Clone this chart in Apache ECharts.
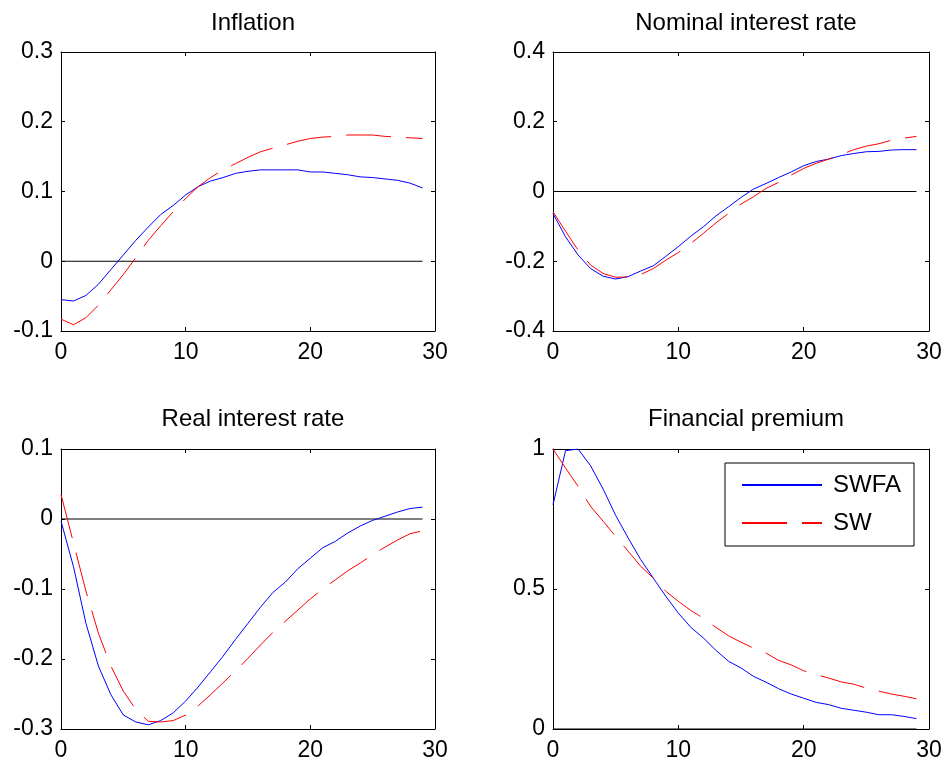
<!DOCTYPE html>
<html>
<head>
<meta charset="utf-8">
<script src="https://cdn.jsdelivr.net/npm/echarts@6/dist/echarts.min.js"></script>
<style>
html,body{margin:0;padding:0;background:#fff;}
#chart{width:948px;height:767px;}
</style>
</head>
<body>
<div id="chart"></div>
<script>
// ---- data ----
const periods = [0,1,2,3,4,5,6,7,8,9,10,11,12,13,14,15,16,17,18,19,20,21,22,23,24,25,26,27,28,29];

const titles = ['Inflation', 'Nominal interest rate', 'Real interest rate', 'Financial premium'];
const seriesNames = ['SWFA', 'SW'];

const inflationSWFA = [-0.055,-0.057,-0.049,-0.033,-0.012,0.009,0.030,0.049,0.067,0.080,0.095,0.107,0.115,0.120,0.126,0.129,0.131,0.131,0.131,0.131,0.128,0.128,0.126,0.124,0.121,0.120,0.118,0.116,0.112,0.105];
const inflationSW = [-0.083,-0.091,-0.081,-0.063,-0.041,-0.019,0.005,0.030,0.051,0.071,0.090,0.107,0.120,0.131,0.140,0.149,0.157,0.162,0.167,0.172,0.176,0.178,0.179,0.181,0.181,0.181,0.179,0.178,0.177,0.176];

const nominalSWFA = [-0.063,-0.130,-0.182,-0.221,-0.243,-0.251,-0.244,-0.228,-0.213,-0.186,-0.158,-0.128,-0.101,-0.070,-0.044,-0.017,0.007,0.023,0.040,0.056,0.074,0.086,0.093,0.103,0.109,0.114,0.115,0.119,0.120,0.120];
const nominalSW = [-0.058,-0.114,-0.168,-0.211,-0.235,-0.246,-0.245,-0.238,-0.221,-0.197,-0.175,-0.149,-0.120,-0.090,-0.063,-0.036,-0.015,0.009,0.026,0.047,0.066,0.081,0.093,0.106,0.120,0.130,0.137,0.147,0.153,0.158];

const realSWFA = [-0.003,-0.068,-0.149,-0.210,-0.251,-0.280,-0.290,-0.294,-0.288,-0.277,-0.260,-0.240,-0.218,-0.196,-0.172,-0.149,-0.126,-0.105,-0.090,-0.071,-0.056,-0.041,-0.032,-0.020,-0.010,-0.002,0.004,0.010,0.015,0.017];
const realSW = [0.035,-0.034,-0.103,-0.163,-0.210,-0.246,-0.272,-0.289,-0.290,-0.288,-0.280,-0.267,-0.251,-0.234,-0.217,-0.199,-0.180,-0.162,-0.146,-0.130,-0.114,-0.100,-0.087,-0.074,-0.063,-0.051,-0.040,-0.030,-0.021,-0.017];

const premiumSWFA = [0.801,0.994,1.000,0.940,0.857,0.763,0.682,0.605,0.539,0.474,0.414,0.363,0.325,0.281,0.242,0.218,0.188,0.167,0.144,0.125,0.110,0.095,0.087,0.074,0.067,0.060,0.051,0.051,0.045,0.037];
const premiumSW = [1.000,0.932,0.867,0.795,0.742,0.688,0.635,0.581,0.539,0.492,0.456,0.423,0.396,0.363,0.333,0.310,0.289,0.271,0.245,0.229,0.208,0.194,0.182,0.168,0.160,0.146,0.135,0.125,0.117,0.108];

const yMins = [-0.1, -0.4, -0.3, 0];
const yMaxs = [0.3, 0.4, 0.1, 1];
const yIntervals = [0.1, 0.2, 0.1, 0.5];
const xMin = 0, xMax = 30, xInterval = 10;
const zeroLineEnds = [0, 29];

const swfaData = [inflationSWFA, nominalSWFA, realSWFA, premiumSWFA];
const swData = [inflationSW, nominalSW, realSW, premiumSW];

// ---- layout ----
const grids = [
  {left: 61, top: 52, width: 374, height: 279},
  {left: 553, top: 52, width: 376, height: 279},
  {left: 61, top: 449, width: 374, height: 280},
  {left: 553, top: 449, width: 376, height: 280}
];
const titleTops = [6, 6, 402, 402];
const FONT = '"Liberation Sans", Arial, sans-serif';

const pairs = (xs, ys) => xs.map((x, i) => [x, ys[i]]);
const fmtY = v => {
  const r = Math.round(v * 10) / 10;
  if (Math.abs(r) < 1e-9) return '0';
  return String(r);
};

const option = {
  animation: false,
  backgroundColor: '#fff',
  title: [], grid: [], xAxis: [], yAxis: [], series: [],
  legend: {
    data: seriesNames,
    orient: 'vertical',
    left: 725, top: 463,
    padding: [10, 13, 11, 16],
    borderColor: '#000', borderWidth: 1,
    backgroundColor: '#fff',
    itemWidth: 80, itemHeight: 24, itemGap: 14,
    selectedMode: false,
    itemStyle: {opacity: 0, borderWidth: 0},
    textStyle: {fontFamily: FONT, fontSize: 24, color: '#000', padding: [0, 0, 0, 6]}
  }
};

grids.forEach((g, k) => {
  option.grid.push(Object.assign({show: false, containLabel: false}, g));
  option.title.push({
    text: titles[k],
    left: g.left + g.width / 2,
    top: titleTops[k],
    textAlign: 'center',
    textStyle: {fontFamily: FONT, fontSize: 24, fontWeight: 'normal', color: '#000'}
  });
  const axLine = {show: true, onZero: false, lineStyle: {color: '#000', width: 1}};
  const tick = {show: true, inside: true, length: 4, lineStyle: {color: '#000', width: 1}};
  const lbl = {fontFamily: FONT, fontSize: 23, color: '#000'};
  // bottom & top x axes
  option.xAxis.push({
    gridIndex: k, type: 'value', position: 'bottom', min: xMin, max: xMax, interval: xInterval,
    axisLine: axLine, axisTick: tick, splitLine: {show: false},
    axisLabel: Object.assign({margin: 10}, lbl)
  });
  option.xAxis.push({
    gridIndex: k, type: 'value', position: 'top', min: xMin, max: xMax, interval: xInterval,
    axisLine: axLine, axisTick: tick, splitLine: {show: false}, axisLabel: {show: false}
  });
  option.yAxis.push({
    gridIndex: k, type: 'value', position: 'left', min: yMins[k], max: yMaxs[k], interval: yIntervals[k],
    axisLine: axLine, axisTick: tick, splitLine: {show: false},
    axisLabel: Object.assign({margin: 8, formatter: fmtY}, lbl)
  });
  option.yAxis.push({
    gridIndex: k, type: 'value', position: 'right', min: yMins[k], max: yMaxs[k], interval: yIntervals[k],
    axisLine: axLine, axisTick: tick, splitLine: {show: false}, axisLabel: {show: false}
  });
  const xi = 2 * k, yi = 2 * k;
  option.series.push({
    name: 'zero', type: 'line', xAxisIndex: xi, yAxisIndex: yi,
    data: zeroLineEnds.map(x => [x, 0]), symbol: 'none', silent: true,
    lineStyle: {color: '#000', width: 1}
  });
  option.series.push({
    name: seriesNames[0], type: 'line', xAxisIndex: xi, yAxisIndex: yi,
    data: pairs(periods, swfaData[k]), symbol: 'none', showSymbol: false,
    color: '#0000ff', lineStyle: {color: '#0000ff', width: 1}
  });
  option.series.push({
    name: seriesNames[1], type: 'line', xAxisIndex: xi, yAxisIndex: yi,
    data: pairs(periods, swData[k]), symbol: 'none', showSymbol: false,
    color: '#ff0000', lineStyle: {color: '#ff0000', width: 1, type: [45, 15]}
  });
});

const chart = echarts.init(document.getElementById('chart'), null, {renderer: 'canvas'});
chart.setOption(option);
</script>
</body>
</html>
